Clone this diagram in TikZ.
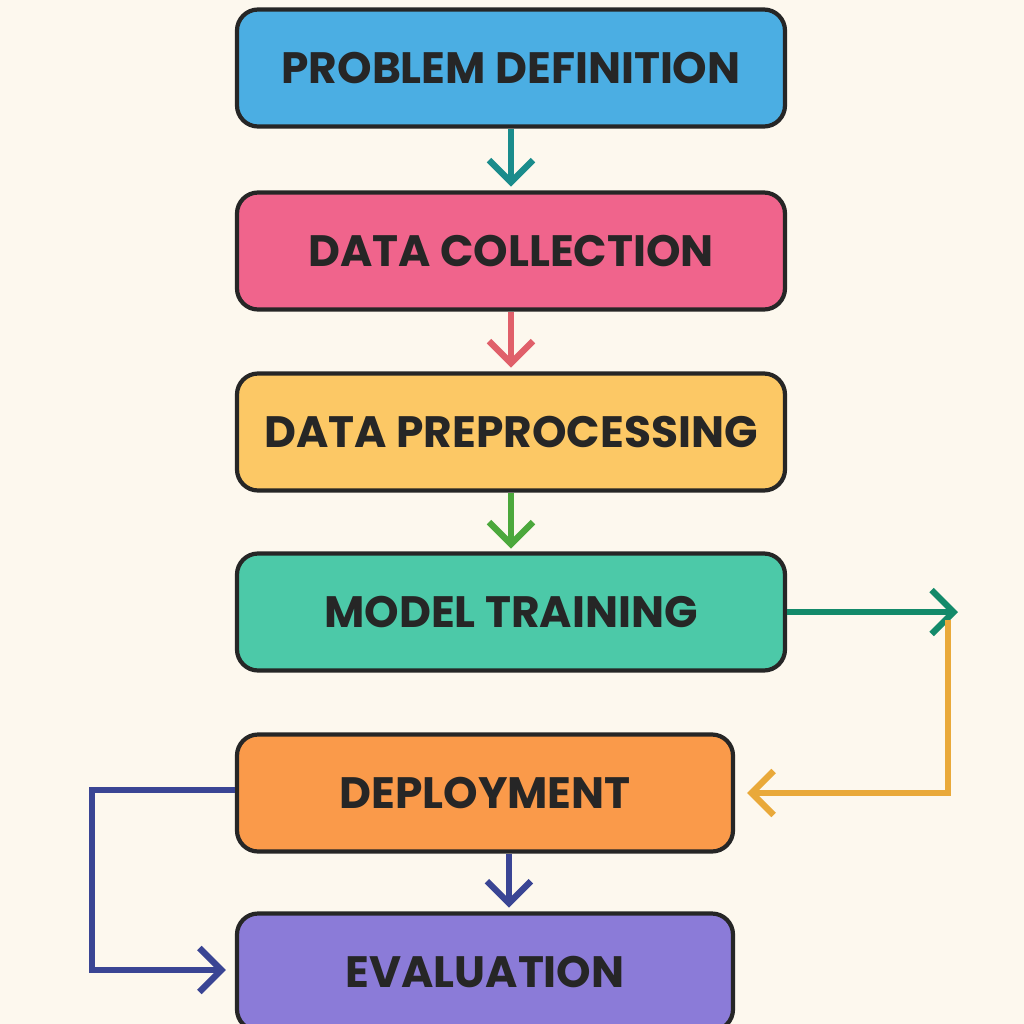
\documentclass[tikz,border=0pt]{standalone}
\usepackage{fontspec}
\setmainfont{Poppins}
\usetikzlibrary{positioning,arrows.meta}
\definecolor{paper}{HTML}{FDF8EE}
\definecolor{cblue}{HTML}{4BAEE3}
\definecolor{cpink}{HTML}{F0648C}
\definecolor{cyellow}{HTML}{FCC865}
\definecolor{cteal}{HTML}{4CC9A8}
\definecolor{corange}{HTML}{FA9A4A}
\definecolor{cpurple}{HTML}{8B7BD8}
\definecolor{ateal}{HTML}{1A8C8C}
\definecolor{ared}{HTML}{E0606A}
\definecolor{agreen}{HTML}{4CA83C}
\definecolor{agreen2}{HTML}{138A6A}
\definecolor{aorange}{HTML}{E9A93A}
\definecolor{anavy}{HTML}{3A4594}
\tikzset{stage/.style={draw=black!85, line width=1.2pt, rounded corners=6pt, inner xsep=0pt,
  minimum height=1.17cm, font=\fontsize{12.5}{12.5}\selectfont\bfseries, text=black!85},
  flow/.style={line width=1.8pt, -{Straight Barb[length=2.2mm,width=4.4mm]}}}
\begin{document}
\begin{tikzpicture}
\useasboundingbox (0,0) rectangle (10.24,-10.24);
\clip (0,0) rectangle (10.24,-10.24);
\fill [paper] (0,0) rectangle (10.24,-10.24);
% stages
\node [stage, fill=cblue, minimum width=5.48cm] (problem) at (5.11,-0.68) {PROBLEM DEFINITION};
\node [stage, fill=cpink, minimum width=5.48cm] (collect) at (5.11,-2.51) {DATA COLLECTION};
\node [stage, fill=cyellow, minimum width=5.48cm] (prep) at (5.11,-4.32) {DATA PREPROCESSING};
\node [stage, fill=cteal, minimum width=5.48cm] (train) at (5.11,-6.12) {MODEL TRAINING};
\node [stage, fill=corange, minimum width=4.96cm] (deploy) at (4.85,-7.93) {DEPLOYMENT};
\node [stage, fill=cpurple, minimum width=4.96cm] (eval) at (4.85,-9.72) {EVALUATION};
\coordinate (tip) at (9.58,-6.12);
\coordinate (left) at (0.92,-7.90);
\coordinate (leftb) at (0.92,-9.70);
% arrows
\draw [flow, ateal] (problem.south) -- ++(0,-0.58);
\draw [flow, ared] (collect.south) -- ++(0,-0.56);
\draw [flow, agreen] (prep.south) -- ++(0,-0.56);
\draw [flow, agreen2] (train.east) -- (tip);
\draw [flow, aorange] (9.48,-6.2) |- ([xshift=1.2mm]deploy.east);
\draw [flow, anavy] ([xshift=2.74cm]deploy.south west) -- ++(0,-0.54);
\draw [flow, anavy] (deploy.west |- left) -- (left) -- (leftb) -- ([xshift=-0.9mm]eval.west |- leftb);
\end{tikzpicture}
\end{document}
